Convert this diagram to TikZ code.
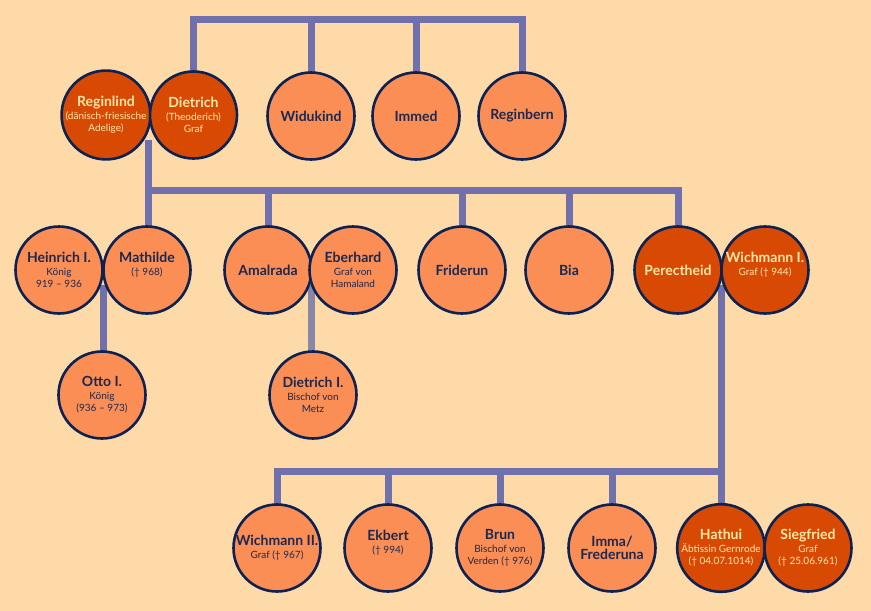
\documentclass[tikz,border=0pt]{standalone}
\usepackage{fontspec}
\setmainfont{Lato}
\definecolor{bg}{HTML}{FDDAA8}
\definecolor{lineC}{HTML}{7070AC}
\definecolor{lineD}{HTML}{8787AA}
\definecolor{darkO}{HTML}{D84A04}
\definecolor{lightO}{HTML}{FA8E55}
\definecolor{navy}{HTML}{0B2252}
\definecolor{cream}{HTML}{FFE8A8}
\definecolor{txt}{HTML}{1C2850}
\newcommand\pname[1]{{\fontsize{14}{15}\selectfont\bfseries #1}}
\pgfdeclarelayer{bgfill}
\pgfdeclarelayer{lines}
\pgfsetlayers{bgfill,lines,main}
\begin{document}
\begin{tikzpicture}[x=1pt,y=-1pt,
  person/.style={circle, draw=navy, line width=2.6pt, minimum size=87pt, inner sep=0pt, align=center, font=\fontsize{10}{12}\selectfont},
  lt/.style={person, fill=lightO, text=txt},
  dk/.style={person, fill=darkO, text=cream},
  conn/.style={draw=lineC, line width=7pt},
  conn2/.style={draw=lineD, line width=7pt},
]
\begin{pgfonlayer}{bgfill}
\fill[bg] (0,0) rectangle (871,611);
\end{pgfonlayer}
\useasboundingbox (0,0) rectangle (871,611);

% bar levels and junctions
\coordinate (T) at (0,19);
\coordinate (B2) at (0,190);
\coordinate (B3) at (0,471);
\coordinate (J1) at (148,140);
\coordinate (J2) at (103,285);
\coordinate (J3) at (311,285);
\coordinate (J4) at (721,285);

\path
 (106,115) node[dk] (Reginlind) {\pname{Reginlind}\\[1pt](dänisch-friesische\\Adelige)}
 (193.5,115) node[dk] (Dietrich) {\pname{Dietrich}\\[1pt](Theoderich)\\Graf}
 (311,116) node[lt] (Widukind) {\pname{Widukind}}
 (416,116) node[lt] (Immed) {\pname{Immed}}
 (522,116) node[lt] (Reginbern) {\pname{Reginbern}}
 (59,270) node[lt] (Heinrich) {\pname{Heinrich I.}\\[1pt]König\\919 – 936}
 (147,270) node[lt] (Mathilde) {\pname{Mathilde}\\[1pt](\textdagger{} 968)\\\mbox{}}
 (268,270) node[lt] (Amalrada) {\pname{Amalrada}}
 (353,270) node[lt] (Eberhard) {\pname{Eberhard}\\[1pt]Graf von\\Hamaland}
 (462,270) node[lt] (Friderun) {\pname{Friderun}}
 (569,270) node[lt] (Bia) {\pname{Bia}}
 (678,270) node[dk] (Perectheid) {\pname{Perectheid}}
 (765,270) node[dk] (WichmannI) {\pname{Wichmann I.}\\[1pt]Graf (\textdagger{} 944)\\\mbox{}}
 (102,395) node[lt] (Otto) {\pname{Otto I.}\\[1pt]König\\(936 – 973)}
 (313,395) node[lt] (DietrichI) {\pname{Dietrich I.}\\[1pt]Bischof von\\Metz}
 (277,548) node[lt] (WichmannII) {\pname{Wichmann II.}\\[1pt]Graf (\textdagger{} 967)}
 (388,548) node[lt] (Ekbert) {\pname{Ekbert}\\[1pt](\textdagger{} 994)\\\mbox{}}
 (500,548) node[lt] (Brun) {\pname{Brun}\\[1pt]Bischof von\\Verden (\textdagger{} 976)}
 (612,548) node[lt] (Imma) {\pname{Imma/}\\[1pt]\pname{Frederuna}}
 (721,548) node[dk] (Hathui) {\pname{Hathui}\\[1pt]Äbtissin Gernrode\\(\textdagger{} 04.07.1014)}
 (808,548) node[dk] (Siegfried) {\pname{Siegfried}\\[1pt]Graf\\(\textdagger{} 25.06.961)};

\begin{pgfonlayer}{lines}
% top generation
\draw[conn] (Dietrich.center) |- (Reginbern.center |- T) -- (Reginbern.center);
\draw[conn] (Widukind.center) -- (Widukind.center |- T);
\draw[conn] (Immed.center) -- (Immed.center |- T);
% second generation
\draw[conn] (J1) |- (Perectheid.center |- B2) -- (Perectheid.center);
\draw[conn] (J1) -- (J1 |- Mathilde.center);
\draw[conn] (Amalrada.center) -- (Amalrada.center |- B2);
\draw[conn] (Friderun.center) -- (Friderun.center |- B2);
\draw[conn] (Bia.center) -- (Bia.center |- B2);
% third generation
\draw[conn] (J2) -- (J2 |- Otto.center);
\draw[conn2] (J3) -- (J3 |- DietrichI.center);
% fourth generation
\draw[conn] (J4) |- (WichmannII.center |- B3) -- (WichmannII.center);
\draw[conn] (J4) -- (J4 |- Hathui.center);
\draw[conn] (Ekbert.center) -- (Ekbert.center |- B3);
\draw[conn] (Brun.center) -- (Brun.center |- B3);
\draw[conn] (Imma.center) -- (Imma.center |- B3);
\end{pgfonlayer}
\end{tikzpicture}
\end{document}
